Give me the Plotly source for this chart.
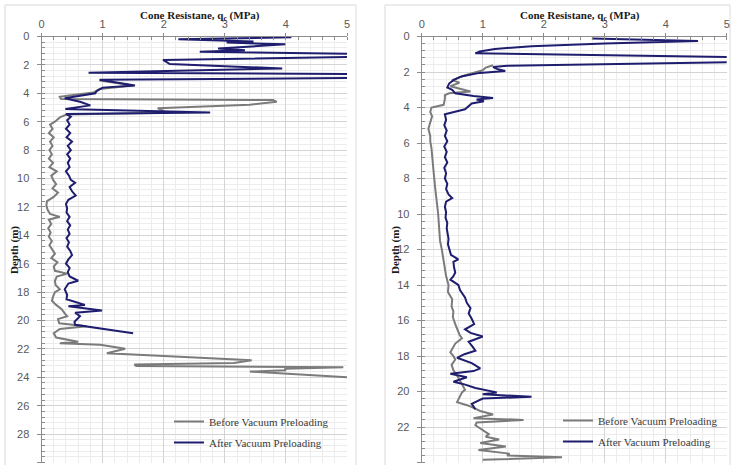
import plotly.graph_objects as go

# ---------------- data ----------------
# Left panel
left_after_depth = [0.05, 0.20, 0.36, 0.43, 0.55, 0.85, 0.97, 1.07, 1.25, 1.40, 1.65, 1.94, 2.25, 2.55,
                    2.65, 2.90, 3.05, 3.20, 3.45, 3.60, 3.85, 4.00, 4.35, 4.60, 4.85, 5.10, 5.35, 5.45,
                    5.65, 5.90, 6.2, 6.5, 6.8, 7.1, 7.4, 7.7, 8.0, 8.3, 8.6, 8.9, 9.2, 9.5, 9.8, 10.1,
                    10.3, 10.6, 10.9, 11.2, 11.5, 11.8, 12.1, 12.4, 12.7, 13.0, 13.3, 13.6, 13.9, 14.2,
                    14.5, 14.8, 15.1, 15.4, 15.7, 16.0, 16.3, 16.6, 16.9, 17.2, 17.4, 17.8, 18.2, 18.5,
                    18.9, 19.0, 19.3, 19.45, 19.7, 20.1, 20.3, 20.9]
left_after_qc = [4.09, 2.24, 3.47, 3.03, 3.99, 2.89, 3.33, 2.59, 5.6, 5.6, 1.99, 2.10, 3.94, 0.77,
                 5.6, 5.6, 0.95, 1.20, 1.53, 1.00, 0.90, 0.88, 0.38, 0.63, 0.80, 0.39, 2.76, 0.40,
                 0.48, 0.42, 0.46, 0.40, 0.47, 0.41, 0.50, 0.43, 0.48, 0.42, 0.47, 0.43, 0.46, 0.40, 0.45, 0.48,
                 0.55, 0.46, 0.50, 0.56, 0.44, 0.40, 0.42, 0.41, 0.46, 0.42, 0.47, 0.43, 0.46, 0.41,
                 0.45, 0.42, 0.47, 0.50, 0.44, 0.40, 0.46, 0.43, 0.46, 0.60, 0.44, 0.38, 0.42, 0.41,
                 0.71, 0.44, 0.99, 0.55, 0.63, 0.54, 0.55, 1.50]

left_before_depth = [3.10, 3.45, 3.70, 3.95, 4.10, 4.25, 4.40, 4.47, 4.60, 4.80, 5.05, 5.37, 5.50, 5.70,
                     6.0, 6.2, 6.5, 6.8, 7.1, 7.4, 7.7, 8.0, 8.3, 8.6, 8.9, 9.2, 9.5, 9.8, 10.1, 10.4,
                     10.7, 11.0, 11.3, 11.6, 11.9, 12.2, 12.5, 12.7, 12.9, 13.2, 13.5, 13.8, 14.1, 14.4,
                     14.7, 15.0, 15.3, 15.6, 15.9, 16.2, 16.5, 16.7, 16.9, 17.2, 17.5, 17.8, 18.0, 18.3,
                     18.6, 18.9, 19.2, 19.5, 19.7, 19.9, 20.2, 20.4, 20.6, 20.9, 21.2, 21.5, 21.6, 21.7,
                     21.99, 22.3, 22.8, 23.0, 23.1, 23.2, 23.3, 23.4, 23.5, 23.6, 23.95, 24.0]
left_before_qc = [0.95, 1.50, 0.95, 0.85, 0.55, 0.30, 0.32, 3.79, 3.85, 3.41, 1.90, 2.05, 0.41, 0.30,
                  0.22, 0.14, 0.18, 0.12, 0.20, 0.14, 0.18, 0.13, 0.17, 0.12, 0.19, 0.13, 0.25, 0.16, 0.19, 0.24,
                  0.18, 0.27, 0.20, 0.09, 0.08, 0.10, 0.14, 0.30, 0.12, 0.16, 0.11, 0.15, 0.12, 0.17,
                  0.13, 0.18, 0.22, 0.16, 0.26, 0.20, 0.22, 0.42, 0.25, 0.22, 0.23, 0.30, 0.22, 0.19,
                  0.17, 0.24, 0.33, 0.38, 0.42, 0.27, 0.29, 0.74, 0.30, 0.20, 0.24, 0.60, 0.30, 0.96,
                  1.37, 1.07, 3.44, 3.15, 1.52, 1.55, 4.94, 3.98, 4.00, 3.41, 4.78, 5.00]

# Right panel
right_after_depth = [0.11, 0.25, 0.40, 0.55, 0.70, 0.85, 0.95, 1.18, 1.41, 1.55, 1.65, 1.72, 1.85, 1.94,
                     2.05, 2.25, 2.46, 2.65, 2.87, 3.0, 3.2, 3.35, 3.47, 3.55, 3.65, 3.77, 4.1, 4.38,
                     4.7, 5.0, 5.3, 5.6, 5.9, 6.2, 6.5, 6.8, 7.1, 7.4, 7.7, 8.0, 8.3, 8.6, 8.9, 9.1,
                     9.3, 9.6, 9.9, 10.2, 10.5, 10.8, 11.1, 11.4, 11.7, 12.0, 12.3, 12.56, 12.7, 13.0,
                     13.3, 13.5, 13.7, 14.0, 14.3, 14.7, 15.0, 15.3, 15.6, 15.9, 16.2, 16.5, 16.7, 16.9,
                     17.2, 17.5, 17.7, 17.9, 18.1, 18.4, 18.7, 18.85, 19.0, 19.2, 19.45, 19.6, 19.8,
                     20.05, 20.15, 20.3, 20.4, 20.7, 21.0]
right_after_qc = [2.79, 4.53, 3.0, 1.8, 1.2, 0.95, 0.88, 5.6, 5.6, 3.5, 1.4, 1.17, 1.25, 1.37,
                  0.95, 0.65, 0.52, 0.45, 0.42, 0.50, 0.55, 0.85, 1.17, 0.90, 1.02, 0.82, 0.71, 0.38,
                  0.40, 0.37, 0.41, 0.38, 0.42, 0.37, 0.41, 0.38, 0.42, 0.37, 0.40, 0.38, 0.42, 0.40, 0.44, 0.50,
                  0.40, 0.38, 0.40, 0.39, 0.42, 0.41, 0.43, 0.44, 0.43, 0.46, 0.48, 0.60, 0.52, 0.53,
                  0.55, 0.52, 0.47, 0.60, 0.63, 0.71, 0.74, 0.80, 0.77, 0.82, 0.86, 0.71, 0.80, 1.0,
                  0.77, 0.84, 0.88, 0.70, 0.58, 0.82, 0.96, 0.85, 0.47, 0.74, 0.52, 0.70, 0.88,
                  1.23, 1.0, 1.8, 1.0, 0.82, 0.88]

right_before_depth = [1.62, 1.75, 1.9, 2.05, 2.2, 2.46, 2.6, 2.8, 2.95, 3.1, 3.2, 3.3, 3.5, 3.85, 4.0,
                      4.25, 4.5, 4.8, 5.2, 5.6, 5.9, 6.3, 6.8, 7.3, 7.8, 8.5, 9.0, 9.5, 10.0, 10.5, 11.0,
                      11.5, 12.0, 12.5, 13.0, 13.5, 14.0, 14.4, 14.8, 15.2, 15.5, 15.8, 16.2, 16.5, 16.8,
                      17.0, 17.3, 17.6, 17.8, 18.0, 18.2, 18.5, 18.8, 19.1, 19.4, 19.65, 19.9, 20.05,
                      20.25, 20.45, 20.6, 20.8, 21.1, 21.3, 21.5, 21.6, 21.75, 21.9, 22.05, 22.2, 22.4,
                      22.55, 22.7, 22.9, 23.1, 23.3, 23.5, 23.6, 23.7, 23.85]
right_before_qc = [1.17, 1.05, 1.0, 0.85, 0.70, 0.50, 0.62, 0.47, 0.63, 0.80, 0.45, 0.38, 0.38, 0.36, 0.16,
                   0.14, 0.17, 0.14, 0.11, 0.14, 0.14, 0.16, 0.17, 0.19, 0.20, 0.22, 0.24, 0.25, 0.27, 0.28, 0.29,
                   0.30, 0.33, 0.35, 0.37, 0.40, 0.44, 0.43, 0.50, 0.49, 0.52, 0.51, 0.55, 0.58, 0.62,
                   0.66, 0.55, 0.50, 0.47, 0.52, 0.55, 0.49, 0.52, 0.58, 0.63, 0.68, 0.71, 0.66,
                   0.63, 0.60, 0.58, 0.77, 0.96, 1.17, 0.85, 1.67, 0.9, 0.88, 0.95, 1.0, 1.10,
                   1.05, 1.27, 0.96, 1.38, 0.93, 1.44, 1.4, 2.30, 1.0]

x_ticks = [0, 1, 2, 3, 4, 5]
left_y_ticks = list(range(0, 31, 2))
right_y_ticks = list(range(0, 25, 2))
x_title = "Cone Resistane, q<sub>c</sub> (MPa)"
y_title = "Depth (m)"
name_before = "Before Vacuum Preloading"
name_after = "After Vacuum Preloading"

# ---------------- styling ----------------
W, H = 731, 465
GREY = "#7b7b7b"
NAVY = "#1f1d6e"
TICKFONT = dict(family="Liberation Sans", size=11, color="#595959")
SERIF_B = dict(family="Liberation Serif", size=11, color="#1a1a1a")
LEGFONT = dict(family="Liberation Serif", size=11, color="#3a3a3a")

def px_x(p):
    return p / W

def px_y(p):
    return 1 - p / H

fig = go.Figure()

fig.add_trace(go.Scatter(x=left_before_qc, y=left_before_depth, mode="lines", name=name_before,
                         line=dict(color=GREY, width=2), xaxis="x", yaxis="y", legend="legend",
                         legendgroup="a"))
fig.add_trace(go.Scatter(x=left_after_qc, y=left_after_depth, mode="lines", name=name_after,
                         line=dict(color=NAVY, width=2), xaxis="x", yaxis="y", legend="legend",
                         legendgroup="b"))
fig.add_trace(go.Scatter(x=right_before_qc, y=right_before_depth, mode="lines", name=name_before,
                         line=dict(color=GREY, width=2), xaxis="x2", yaxis="y2", legend="legend2",
                         legendgroup="c"))
fig.add_trace(go.Scatter(x=right_after_qc, y=right_after_depth, mode="lines", name=name_after,
                         line=dict(color=NAVY, width=2), xaxis="x2", yaxis="y2", legend="legend2",
                         legendgroup="d"))

def xaxis_cfg(domain, anchor):
    return dict(domain=domain, anchor=anchor, side="top", range=[0, 5], tickvals=x_ticks,
                automargin=False,
                showline=True, linecolor="#8c8c8c", linewidth=1, ticks="outside", ticklen=3,
                tickcolor="#8c8c8c", tickfont=TICKFONT, ticklabelstandoff=0,
                showgrid=True, gridcolor="#d4d4d4", gridwidth=1, zeroline=False,
                minor=dict(dtick=0.2, showgrid=True, gridcolor="#ececec", ticks="inside",
                           ticklen=3, tickcolor="#8c8c8c"))

def yaxis_cfg(domain, anchor, rmax, tickvals):
    return dict(domain=domain, anchor=anchor, range=[rmax, 0], tickvals=tickvals,
                automargin=False,
                showline=True, linecolor="#8c8c8c", linewidth=1, ticks="outside", ticklen=4,
                tickcolor="#8c8c8c", tickfont=TICKFONT, ticklabelstandoff=5,
                showgrid=True, gridcolor="#d4d4d4", gridwidth=1, zeroline=False,
                minor=dict(dtick=0.4, showgrid=True, gridcolor="#ececec", ticks="inside",
                           ticklen=3, tickcolor="#8c8c8c"))

ydom = [px_y(462.5), px_y(36.5)]
fig.update_layout(
    width=W, height=H, margin=dict(l=0, r=0, t=0, b=0, autoexpand=False),
    paper_bgcolor="white", plot_bgcolor="white",
    xaxis=xaxis_cfg([px_x(41.5), px_x(347)], "y"),
    yaxis=yaxis_cfg(ydom, "x", 30, left_y_ticks),
    xaxis2=xaxis_cfg([px_x(421.7), px_x(726.7)], "y2"),
    yaxis2=yaxis_cfg(ydom, "x2", 24, right_y_ticks),
    legend=dict(x=px_x(169), y=px_y(407), xanchor="left", yanchor="top",
                font=LEGFONT, bgcolor="rgba(0,0,0,0)", traceorder="grouped",
                tracegroupgap=2, itemwidth=30),
    legend2=dict(x=px_x(558), y=px_y(406), xanchor="left", yanchor="top",
                 font=LEGFONT, bgcolor="rgba(0,0,0,0)", traceorder="grouped",
                 tracegroupgap=2, itemwidth=30),
    showlegend=True,
)

# chart frames (light borders)
for x0, x1 in [(5, 356), (385, 730)]:
    fig.add_shape(type="rect", xref="paper", yref="paper",
                  x0=px_x(x0), x1=px_x(x1), y0=px_y(470), y1=px_y(5),
                  line=dict(color="#d9d9d9", width=1), fillcolor="rgba(0,0,0,0)", layer="below")

# axis titles
for cx in (200, 580):
    fig.add_annotation(text="<b>" + x_title + "</b>", xref="paper", yref="paper",
                       x=px_x(cx), y=px_y(16), showarrow=False, font=SERIF_B,
                       xanchor="center", yanchor="middle")
for cx in (15, 396):
    fig.add_annotation(text="<b>" + y_title + "</b>", xref="paper", yref="paper",
                       x=px_x(cx), y=px_y(250), showarrow=False, font=SERIF_B, textangle=-90,
                       xanchor="center", yanchor="middle")

fig.write_html("out.html", config={"displayModeBar": False},
               post_script="document.body.style.margin='0';document.body.style.overflow='hidden';")
